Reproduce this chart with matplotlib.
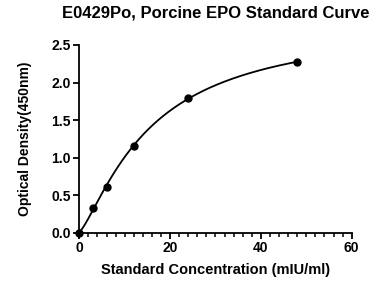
import matplotlib
matplotlib.use("Agg")
import matplotlib.pyplot as plt
import numpy as np
from matplotlib.ticker import MultipleLocator, FormatStrFormatter

plt.rcParams["font.family"] = ["Liberation Sans", "DejaVu Sans"]
plt.rcParams["font.weight"] = "bold"

# standard points
conc = np.array([0, 3, 6, 12, 24, 48], dtype=float)
od = np.array([0.0, 0.335, 0.605, 1.16, 1.80, 2.27])

title = "E0429Po, Porcine EPO Standard Curve"
xlabel = "Standard Concentration (mIU/ml)"
ylabel = "Optical Density(450nm)"


def fit_4pl(x, y):
    # grid over slope/midpoint, bottom/top solved by least squares
    best = None
    for b in np.linspace(0.5, 3.0, 126):
        for c in np.linspace(5, 80, 301):
            g = 1.0 / (1.0 + (x / c) ** b)
            A = np.column_stack([g, 1 - g])
            coef, *_ = np.linalg.lstsq(A, y, rcond=None)
            err = np.sum((A @ coef - y) ** 2)
            if best is None or err < best[0]:
                best = (err, coef[0], coef[1], b, c)
    return best[1:]


a, d, b, c = fit_4pl(conc, od)
xs = np.linspace(0, conc.max(), 300)
ys = d + (a - d) / (1 + (xs / c) ** b)

fig = plt.figure(figsize=(3.8, 2.86), dpi=100)
ax = fig.add_axes([0.2087, 0.1864, 0.7168, 0.6563])

ax.plot(xs, ys, color="black", linewidth=1.3, zorder=2)
ax.plot(conc, od, "o", color="black", markersize=5, zorder=3, clip_on=False)

ax.set_xlim(0, 60)
ax.set_ylim(0, 2.5)
ax.xaxis.set_major_locator(MultipleLocator(20))
ax.xaxis.set_minor_locator(MultipleLocator(2))
ax.yaxis.set_major_locator(MultipleLocator(0.5))
ax.yaxis.set_major_formatter(FormatStrFormatter("%.1f"))

for s in ["top", "right"]:
    ax.spines[s].set_visible(False)
for s in ["left", "bottom"]:
    ax.spines[s].set_linewidth(1.3)
ax.tick_params(which="major", length=4, width=1.3, labelsize=10, pad=2)
ax.tick_params(which="minor", length=3, width=1.1)

ax.set_xlabel(xlabel, fontsize=10.5, fontweight="bold", labelpad=6)
ax.set_ylabel(ylabel, fontsize=10, fontweight="bold", labelpad=14)
ax.set_title(title, fontsize=12, fontweight="bold", pad=20)

fig.savefig("out.png", dpi=100)
